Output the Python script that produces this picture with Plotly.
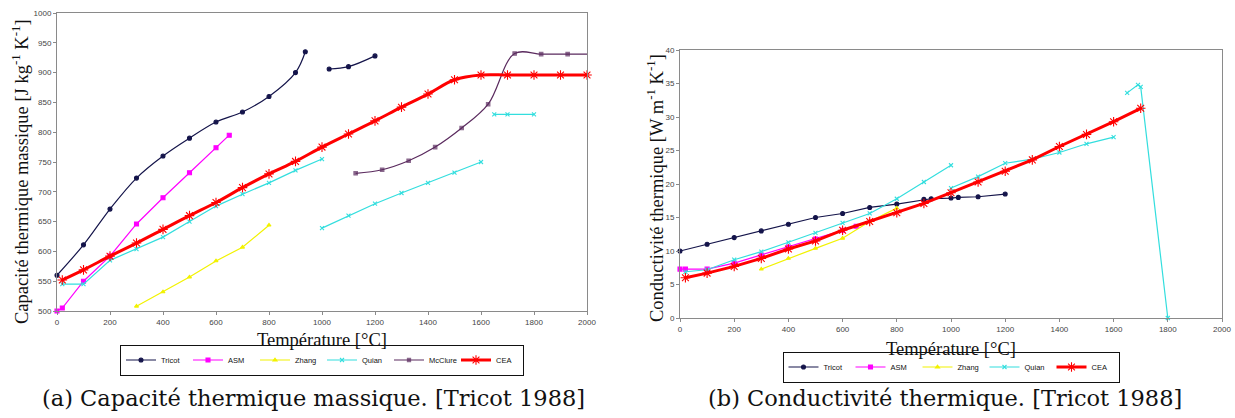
import plotly.graph_objects as go

# ---------------- Data: (a) Capacité thermique massique ----------------
cp_tricot_T = [0, 100, 200, 300, 400, 500, 600, 700, 800, 900, 937, None, 1027, 1100, 1200]
cp_tricot = [560, 611, 671, 723, 760, 790, 817, 834, 860, 900, 935, None, 906, 910, 928]

cp_asm_T = [0, 20, 100, 200, 300, 400, 500, 600, 650]
cp_asm = [500, 505, 550, 592, 646, 690, 732, 774, 795]

cp_zhang_T = [300, 400, 500, 600, 700, 800]
cp_zhang = [508, 532, 557, 584, 607, 644]

cp_quian_T = [20, 100, 200, 300, 400, 500, 600, 700, 800, 900, 1000, None,
              1000, 1100, 1200, 1300, 1400, 1500, 1600, None, 1650, 1700, 1800]
cp_quian = [545, 545, 585, 604, 624, 650, 676, 696, 715, 736, 755, None,
            639, 660, 680, 698, 715, 732, 750, None, 830, 830, 830]

cp_mcclure_T = [1127, 1227, 1327, 1427, 1527, 1627, 1727, 1827, 1927, 2010]
cp_mcclure = [731, 737, 752, 775, 807, 847, 932, 931, 931, 931]

cp_cea_T = [20, 100, 200, 300, 400, 500, 600, 700, 800, 900, 1000, 1100, 1200,
            1300, 1400, 1500, 1600, 1700, 1800, 1900, 2000]
cp_cea = [552, 569, 592, 614, 637, 660, 682, 707, 730, 751, 775, 797, 819,
          842, 864, 888, 896, 896, 896, 896, 896]

# ---------------- Data: (b) Conductivité thermique ----------------
k_tricot_T = [0, 100, 200, 300, 400, 500, 600, 700, 800, 900, 927, 1000, 1027, 1100, 1200]
k_tricot = [10.0, 11.0, 12.0, 13.0, 14.0, 15.0, 15.6, 16.5, 17.0, 17.7, 17.8, 17.9, 18.0, 18.1, 18.5]

k_asm_T = [0, 20, 100, 200, 300, 400, 500, 600, 650]
k_asm = [7.3, 7.3, 7.3, 8.2, 9.4, 10.6, 11.8, 13.1, 13.7]

k_zhang_T = [300, 400, 500, 600, 700, 800]
k_zhang = [7.3, 8.9, 10.4, 11.9, 14.4, 16.4]

k_quian_T = [20, 100, 200, 300, 400, 500, 600, 700, 800, 900, 1000, None,
             1000, 1100, 1200, 1300, 1400, 1500, 1600, None, 1650, 1690, 1700, 1800]
k_quian = [6.9, 7.2, 8.7, 9.9, 11.3, 12.7, 14.2, 15.6, 17.8, 20.3, 22.8, None,
           19.4, 21.1, 23.1, 23.7, 24.7, 26.0, 27.0, None, 33.6, 34.8, 34.5, 0.0]

k_cea_T = [20, 100, 200, 300, 400, 500, 600, 700, 800, 900, 1000, 1100, 1200,
           1300, 1400, 1500, 1600, 1700]
k_cea = [6.0, 6.7, 7.7, 8.9, 10.3, 11.5, 13.1, 14.4, 15.7, 17.1, 18.7, 20.3, 21.9,
         23.6, 25.6, 27.4, 29.3, 31.3]

x_ticks = [0, 200, 400, 600, 800, 1000, 1200, 1400, 1600, 1800, 2000]
cp_ticks = [500, 550, 600, 650, 700, 750, 800, 850, 900, 950, 1000]
k_ticks = [0, 5, 10, 15, 20, 25, 30, 35, 40]

C_TRICOT = "#14144a"
C_ASM = "#ff00ff"
C_ZHANG = "#f2f200"
C_QUIAN = "#33dede"
C_MCCLURE = "#5a2a5e"
C_CEA = "#ff0000"

W, H = 1235, 418
fig = go.Figure()


def add(x, y, name, color, width, symbol, size, xa, ya, legend, shape="linear", sizes=None):
    fig.add_trace(go.Scatter(
        x=x, y=y, name=name, mode="lines+markers", xaxis=xa, yaxis=ya, legend=legend,
        line=dict(color=color, width=width, shape=shape, smoothing=1.0),
        marker=dict(symbol=symbol, color=color, size=sizes if sizes else size,
                    line=dict(color=color, width=1.1)),
        connectgaps=False, cliponaxis=False,
    ))


# Left chart
add(cp_tricot_T, cp_tricot, "Tricot", C_TRICOT, 1.2, "circle", 4, "x", "y", "legend", "spline")
add(cp_asm_T, cp_asm, "ASM", C_ASM, 1.2, "square", 4, "x", "y", "legend")
add(cp_zhang_T, cp_zhang, "Zhang", C_ZHANG, 1.2, "triangle-up", 3.5, "x", "y", "legend")
add(cp_quian_T, cp_quian, "Quian", C_QUIAN, 1.2, "x-thin-open", 4, "x", "y", "legend")
add(cp_mcclure_T, cp_mcclure, "McClure", C_MCCLURE, 1.2, "square", 3.5, "x", "y", "legend", "spline",
    sizes=[3.5] * (len(cp_mcclure) - 1) + [0])
add(cp_cea_T, cp_cea, "CEA", C_CEA, 3, "asterisk-open", 8, "x", "y", "legend", "spline")

# Right chart
add(k_tricot_T, k_tricot, "Tricot", C_TRICOT, 1.2, "circle", 4, "x2", "y2", "legend2")
add(k_asm_T, k_asm, "ASM", C_ASM, 1.2, "square", 4, "x2", "y2", "legend2")
add(k_zhang_T, k_zhang, "Zhang", C_ZHANG, 1.2, "triangle-up", 3.5, "x2", "y2", "legend2")
add(k_quian_T, k_quian, "Quian", C_QUIAN, 1.2, "x-thin-open", 4, "x2", "y2", "legend2")
add(k_cea_T, k_cea, "CEA", C_CEA, 3, "asterisk-open", 8, "x2", "y2", "legend2")

tickfont = dict(family="Liberation Sans, Arial", size=8, color="#444")
axis_common = dict(showgrid=False, zeroline=False, showline=True, linecolor="#8a8a8a", linewidth=1,
                   mirror=True, ticks="outside", ticklen=3, tickcolor="#8a8a8a", tickfont=tickfont,
                   automargin=False)


def px_x(p):
    return p / W


def px_y(p):
    return 1 - p / H


legend_font = dict(family="Liberation Sans, Arial", size=7.5, color="#111")

fig.update_layout(
    width=W, height=H, margin=dict(l=0, r=0, t=0, b=0),
    paper_bgcolor="white", plot_bgcolor="white",
    xaxis=dict(domain=[px_x(57), px_x(587)], range=[0, 2000], tickvals=x_ticks, anchor="y", **axis_common),
    yaxis=dict(domain=[px_y(311), px_y(13)], range=[500, 1000], tickvals=cp_ticks, anchor="x", **axis_common),
    xaxis2=dict(domain=[px_x(680), px_x(1222)], range=[0, 2000], tickvals=x_ticks, anchor="y2", **axis_common),
    yaxis2=dict(domain=[px_y(318), px_y(50)], range=[0, 40], tickvals=k_ticks, anchor="x2", **axis_common),
    legend=dict(orientation="h", x=px_x(322), y=px_y(360), xanchor="center", yanchor="middle",
                font=legend_font, bordercolor="#111", borderwidth=1, itemwidth=30,
                entrywidth=22, bgcolor="white"),
    legend2=dict(orientation="h", x=px_x(951), y=px_y(367), xanchor="center", yanchor="middle",
                 font=legend_font, bordercolor="#111", borderwidth=1, itemwidth=30,
                 entrywidth=22, bgcolor="white"),
)

title_font = dict(family="Liberation Serif, Times New Roman", size=18.5, color="#111")
cap_font = dict(family="DejaVu Serif", size=22.5, color="#111")

annots = [
    dict(text="Capacité thermique massique [J kg<sup>-1</sup> K<sup>-1</sup>]", x=px_x(20), y=px_y(172),
         textangle=-90, font=title_font),
    dict(text="Température [°C]", x=px_x(322), y=px_y(340), font=title_font),
    dict(text="Conductivité thermique [W m<sup>-1</sup> K<sup>-1</sup>]", x=px_x(655), y=px_y(188),
         textangle=-90, font=title_font),
    dict(text="Température [°C]", x=px_x(951), y=px_y(349), font=title_font),
    dict(text="(a) Capacité thermique massique. [Tricot 1988]", x=px_x(313), y=px_y(398), font=cap_font),
    dict(text="(b) Conductivité thermique. [Tricot 1988]", x=px_x(945), y=px_y(398), font=cap_font),
]
for a in annots:
    fig.add_annotation(xref="paper", yref="paper", showarrow=False, xanchor="center", yanchor="middle", **a)

fig.write_html("out.html", post_script="document.body.style.margin='0px';",
               config={"displayModeBar": False})
